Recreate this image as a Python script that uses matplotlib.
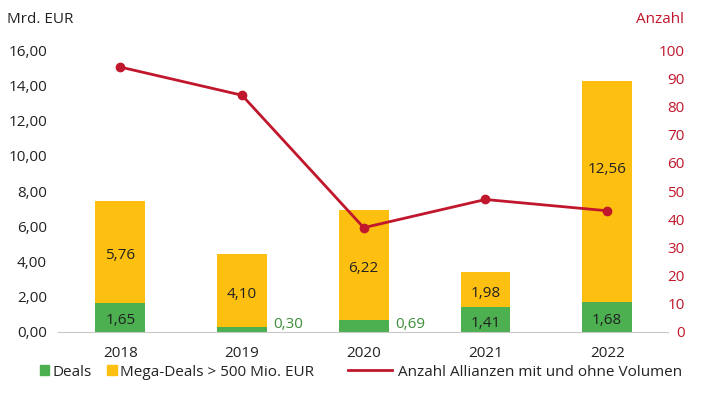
import matplotlib.pyplot as plt
from matplotlib.lines import Line2D
from matplotlib.patches import Patch

plt.rcParams['font.family'] = ['Open Sans', 'DejaVu Sans']

# data
years = ['2018', '2019', '2020', '2021', '2022']
deals = [1.65, 0.30, 0.69, 1.41, 1.68]
mega_deals = [5.76, 4.10, 6.22, 1.98, 12.56]
anzahl = [94, 84, 37, 47, 43]
left_ticks = [0, 2, 4, 6, 8, 10, 12, 14, 16]
right_ticks = [0, 10, 20, 30, 40, 50, 60, 70, 80, 90, 100]

green = '#4CAF50'
yellow = '#FDC010'
red = '#C0172C'
label_green = '#3E8E3A'
text_col = '#222222'

fig = plt.figure(figsize=(7.01, 3.98), dpi=100)
ax = fig.add_axes([0.083, 0.166, 0.87, 0.708])
x = list(range(len(years)))
w = 0.41
dy = 0.2  # labels sit a little below the segment centre

ax.bar(x, deals, width=w, color=green, zorder=2)
ax.bar(x, mega_deals, width=w, bottom=deals, color=yellow, zorder=2)

for i in x:
    d, m = deals[i], mega_deals[i]
    if d >= 1:
        ax.text(i, d / 2 - dy, f'{d:.2f}'.replace('.', ','), ha='center', va='center',
                fontsize=11, color=text_col, zorder=5)
    else:
        ax.text(i + w / 2 + 0.05, 0.45, f'{d:.2f}'.replace('.', ','), ha='left',
                va='center', fontsize=11, color=label_green, zorder=5)
    ym = d + m / 2 - dy
    if m > 10:
        ym = d + m * 0.6  # label lifted above the line
    ax.text(i, ym, f'{m:.2f}'.replace('.', ','), ha='center', va='center',
            fontsize=11, color=text_col, zorder=5)

ax.set_xlim(-0.51, 4.5)
ax.set_ylim(0, 16)
ax.set_yticks(left_ticks)
ax.set_yticklabels([f'{t:.2f}'.replace('.', ',') for t in left_ticks])
ax.set_xticks(x)
ax.set_xticklabels(years)
ax.tick_params(axis='both', length=0, labelsize=11, colors=text_col)
ax.tick_params(axis='y', pad=8)
ax.tick_params(axis='x', pad=10)
for s in ['top', 'right', 'left']:
    ax.spines[s].set_visible(False)
ax.spines['bottom'].set_color('#C8C8C8')

ax2 = ax.twinx()
ax2.plot(x, anzahl, color=red, lw=2, marker='o', ms=6, zorder=4)
ax2.set_ylim(0, 100)
ax2.set_yticks(right_ticks)
ax2.tick_params(axis='y', length=0, labelsize=11, colors=red, pad=12)
for lab in ax2.get_yticklabels():
    lab.set_horizontalalignment('right')
for s in ax2.spines.values():
    s.set_visible(False)

fig.text(0.01, 0.952, 'Mrd. EUR', fontsize=11, color=text_col, ha='left', va='center')
fig.text(0.976, 0.952, 'Anzahl', fontsize=11, color=red, ha='right', va='center')

leg1 = fig.legend([Patch(color=green), Patch(color=yellow)],
                  ['Deals', 'Mega-Deals > 500 Mio. EUR'],
                  loc='center left', bbox_to_anchor=(0.057, 0.065), ncol=2,
                  frameon=False, fontsize=11, handlelength=0.6, handleheight=0.6,
                  handletextpad=0.25, columnspacing=1.0, borderpad=0, borderaxespad=0,
                  labelcolor=text_col)
leg2 = fig.legend([Line2D([0], [0], color=red, lw=2)],
                  ['Anzahl Allianzen mit und ohne Volumen'],
                  loc='center left', bbox_to_anchor=(0.497, 0.065),
                  frameon=False, fontsize=11, handlelength=2.85,
                  handletextpad=0.4, borderpad=0, borderaxespad=0,
                  labelcolor=text_col)

fig.savefig('out.png', dpi=100)
